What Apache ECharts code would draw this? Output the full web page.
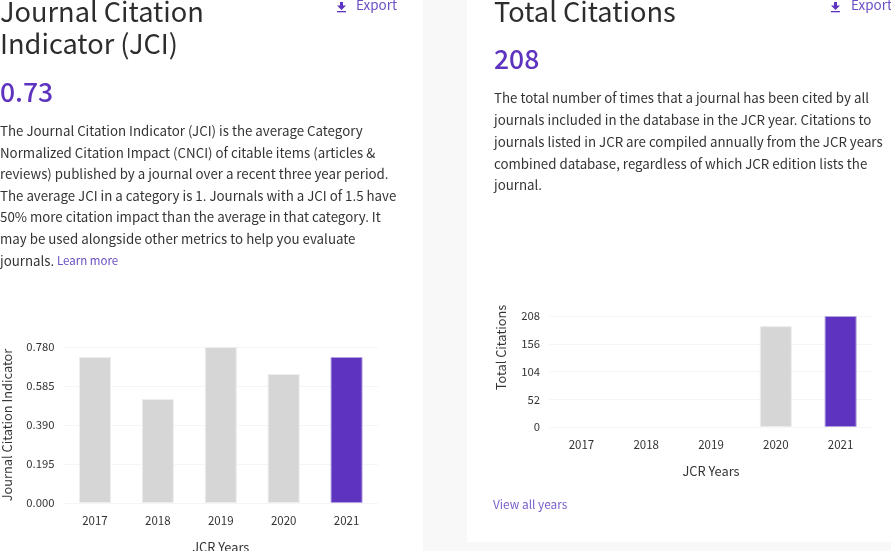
<!DOCTYPE html>
<html><head><meta charset="utf-8">
<style>html,body{margin:0;padding:0;background:#fff}#c{width:891px;height:551px}</style>
<script src="https://cdn.jsdelivr.net/npm/echarts@6/dist/echarts.min.js"></script>
</head><body><div id="c"></div>
<script>
const years = ['2017','2018','2019','2020','2021'];
const jciValues = [0.73,0.52,0.78,0.645,0.73];
const citationValues = [null,null,null,189,208];
const jciLines = [
 'The Journal Citation Indicator (JCI) is the average Category',
 'Normalized Citation Impact (CNCI) of citable items (articles &',
 'reviews) published by a journal over a recent three year period.',
 'The average JCI in a category is 1. Journals with a JCI of 1.5 have',
 '50% more citation impact than the average in that category. It',
 'may be used alongside other metrics to help you evaluate',
 'journals.'];
const citationLines = [
 'The total number of times that a journal has been cited by all',
 'journals included in the database in the JCR year. Citations to',
 'journals listed in JCR are compiled annually from the JCR years',
 'combined database, regardless of which JCR edition lists the',
 'journal.'];
const FONT='"Noto Sans CJK SC","Noto Sans",sans-serif';
const PURPLE='#5e33bf', INK='#2d2d2d';
const txt=(text,x,y,size,fill,weight)=>({type:'text',silent:true,style:{text,x,y,fill,font:(weight||400)+' '+size+'px '+FONT,textVerticalAlign:'middle'}});
const rect=(x,y,w,h,fill)=>({type:'rect',silent:true,z:-10,shape:{x,y,width:w,height:h},style:{fill}});
const icon=(x,y)=>({type:'group',x,y,silent:true,children:[
  {type:'polygon',shape:{points:[[3,0],[6,0],[6,3.5],[9,3.5],[4.5,8],[0,3.5],[3,3.5]]},style:{fill:PURPLE}},
  {type:'rect',shape:{x:0,y:9,width:9,height:1.3},style:{fill:PURPLE}}]});
const graphics=[
  rect(0,0,423,551,'#fff'), rect(467,0,424,542,'#fff'),
  txt('Journal Citation',0,12,27.2,INK), txt('Indicator (JCI)',0,44,27.2,INK),
  txt('0.73',0,92,26.5,PURPLE,500),
  txt('Total Citations',494,12,27.2,INK),
  txt('208',494,59,26.5,PURPLE,500),
  icon(337,2), txt('Export',356,5,13.5,'#6d4fc4'),
  icon(831,2), txt('Export',851,5,13.5,'#6d4fc4'),
  txt('Learn more',57,261,11.5,'#6d4fc4'),
  txt('View all years',493,504,11.9,'#7a5fca')
];
const jciY=[131,152.5,174,196,217,239,260.5];
jciLines.forEach((l,i)=>graphics.push(txt(l,0,jciY[i],13.3,'#333')));
const citY=[98,120,142,163.5,185];
citationLines.forEach((l,i)=>graphics.push(txt(l,494,citY[i],13.3,'#333')));
const barData=(vals)=>vals.map((v,i)=>({value:v,itemStyle:i===vals.length-1
  ?{color:PURPLE,borderColor:'#b3a3e2',borderWidth:1}
  :{color:'#d6d6d6',borderColor:'#ededed',borderWidth:1}}));
const xAxis=(gridIndex,gap)=>({type:'category',gridIndex,data:years,name:'JCR Years',nameLocation:'middle',nameGap:gap,
  nameTextStyle:{color:'#333',fontSize:12.8,fontFamily:FONT},
  axisLine:{show:false},axisTick:{show:false},axisLabel:{color:'#333',fontSize:11.5,margin:12,fontFamily:FONT}});
const yAxis=(gridIndex,max,interval,name,gap,pad,fmt)=>({type:'value',gridIndex,min:0,max,interval,name,nameLocation:'middle',nameRotate:90,nameGap:gap,
  nameTextStyle:{color:'#333',fontSize:12.8,fontFamily:FONT,padding:pad},
  axisLine:{show:false},axisTick:{show:false},splitLine:{lineStyle:{color:'#f5f5f5',width:1}},
  axisLabel:{color:'#333',fontSize:11.3,margin:9,fontFamily:FONT,formatter:fmt}});
const chart=echarts.init(document.getElementById('c'));
chart.setOption({
  animation:false,backgroundColor:'#f8f8f8',textStyle:{fontFamily:FONT},
  graphic:graphics,
  grid:[{left:63.5,top:347,width:314.5,height:156,outerBoundsMode:'none'},{left:549,top:316,width:324,height:111,outerBoundsMode:'none'}],
  xAxis:[xAxis(0,38),xAxis(1,38)],
  yAxis:[yAxis(0,0.78,0.195,'Journal Citation Indicator',50,[0,0,0,0],v=>v.toFixed(3)),
         yAxis(1,208,52,'Total Citations',41,[0,0,0,48],v=>String(v))],
  series:[
    {type:'bar',xAxisIndex:0,yAxisIndex:0,barWidth:32,data:barData(jciValues)},
    {type:'bar',xAxisIndex:1,yAxisIndex:1,barWidth:32,data:barData(citationValues)}
  ]
});
</script></body></html>
